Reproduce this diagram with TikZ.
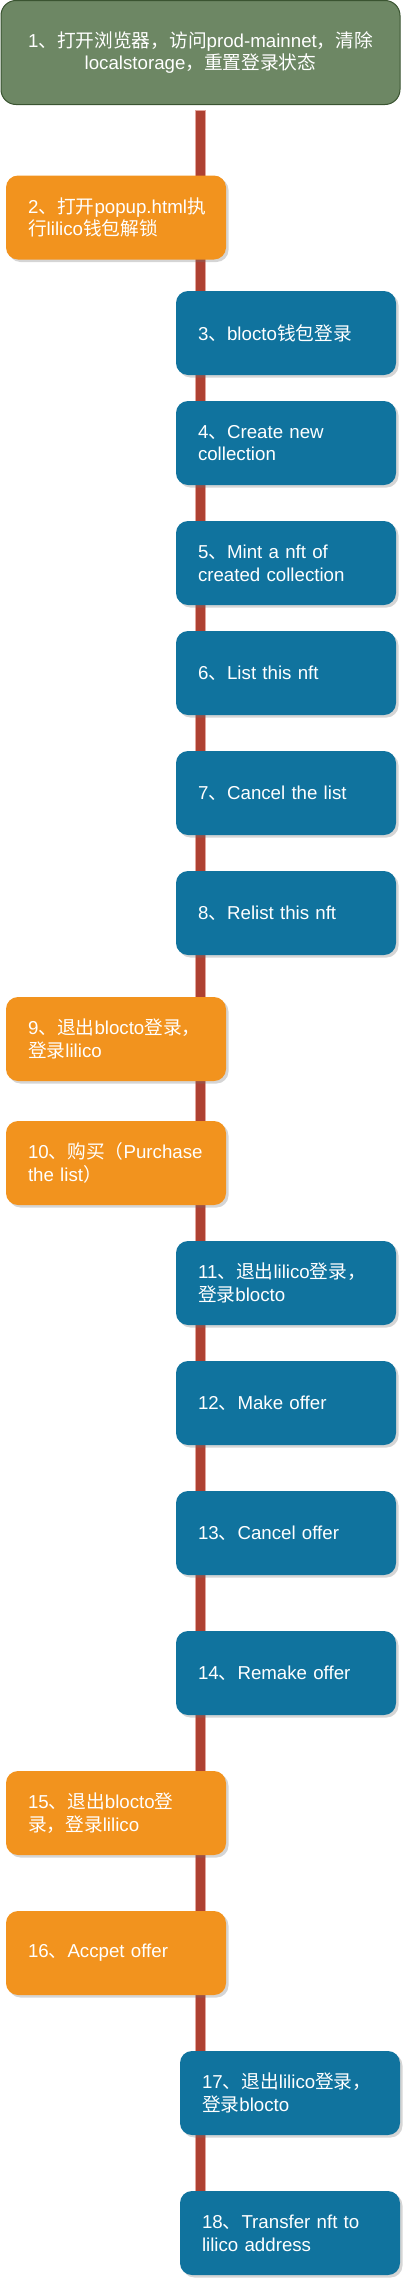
\documentclass[tikz,border=0pt]{standalone}
\usepackage{fontspec}
\setmainfont{Liberation Sans}
\newfontfamily\zhfont{Noto Sans CJK SC}
\newcommand{\zh}[1]{{\zhfont #1}}
\usepackage{xcolor}
\usetikzlibrary{positioning, shadows, backgrounds}
\definecolor{startgreen}{HTML}{6D8764}
\definecolor{startedge}{HTML}{3A5431}
\definecolor{liliorange}{HTML}{F2931E}
\definecolor{bloctoblue}{HTML}{10739E}
\definecolor{spinered}{HTML}{AE4132}
\definecolor{spineedge}{HTML}{E3A59C}

\begin{document}
\begin{tikzpicture}[
        x=1pt, y=-1pt,
        card/.style={rectangle, rounded corners=12pt, minimum width=220pt, minimum height=84pt, text width=176pt, inner xsep=22pt, align=left, text=white, font=\fontsize{18.7}{22.7}\selectfont, drop shadow={shadow xshift=2.5pt, shadow yshift=-2.5pt, opacity=0.3, fill=black!55}},
        lilicard/.style={card, fill=liliorange},
        bloctocard/.style={card, fill=bloctoblue},
        startcard/.style={rectangle, rounded corners=15pt, minimum width=399pt, minimum height=104pt, text width=380pt, align=center, fill=startgreen, draw=startedge, line width=1pt, text=white, font=\fontsize{18.7}{22.7}\selectfont},
        spine/.style={fill=spinered, draw=spineedge, line width=1pt}
    ]
    \useasboundingbox (0,0) rectangle (411,2286);

    % Start
    \node[startcard] (s1) at (200.5,52.5) {1\zh{、打开浏览器，访问}prod-mainnet\zh{，清除}\\localstorage\zh{，重置登录状态}};

    % Steps
    \node[lilicard] (s2) at (116,217.5) {2\zh{、打开}popup.html\zh{执}\\\zh{行}lilico\zh{钱包解锁}};
    \node[bloctocard] (s3) at (286,333) {3\zh{、}blocto\zh{钱包登录}};
    \node[bloctocard] (s4) at (286,443) {4\zh{、}Create new\\collection};
    \node[bloctocard] (s5) at (286,563) {5\zh{、}Mint a nft of\\created collection};
    \node[bloctocard] (s6) at (286,673) {6\zh{、}List this nft};
    \node[bloctocard] (s7) at (286,793) {7\zh{、}Cancel the list};
    \node[bloctocard] (s8) at (286,913) {8\zh{、}Relist this nft};
    \node[lilicard] (s9) at (116,1039) {9\zh{、退出}blocto\zh{登录，}\\\zh{登录}lilico};
    \node[lilicard] (s10) at (116,1163) {10\zh{、购买（}Purchase\\the list\zh{）}};
    \node[bloctocard] (s11) at (286,1283) {11\zh{、退出}lilico\zh{登录，}\\\zh{登录}blocto};
    \node[bloctocard] (s12) at (286,1403) {12\zh{、}Make offer};
    \node[bloctocard] (s13) at (286,1533) {13\zh{、}Cancel offer};
    \node[bloctocard] (s14) at (286,1673) {14\zh{、}Remake offer};
    \node[lilicard] (s15) at (116,1813) {15\zh{、退出}blocto\zh{登}\\\zh{录，登录}lilico};
    \node[lilicard] (s16) at (116,1953) {16\zh{、}Accpet offer};
    \node[bloctocard] (s17) at (290,2093) {17\zh{、退出}lilico\zh{登录，}\\\zh{登录}blocto};
    \node[bloctocard] (s18) at (290,2233) {18\zh{、}Transfer nft to\\lilico address};

    % Timeline
    \begin{scope}[on background layer]
        \coordinate (spinetop) at ([yshift=-5pt]s1.south);
        \coordinate (spineend) at (spinetop |- s18.center);
        \path[spine] ([xshift=-5pt]spinetop) rectangle ([xshift=5pt]spineend);
    \end{scope}

\end{tikzpicture}
\end{document}
